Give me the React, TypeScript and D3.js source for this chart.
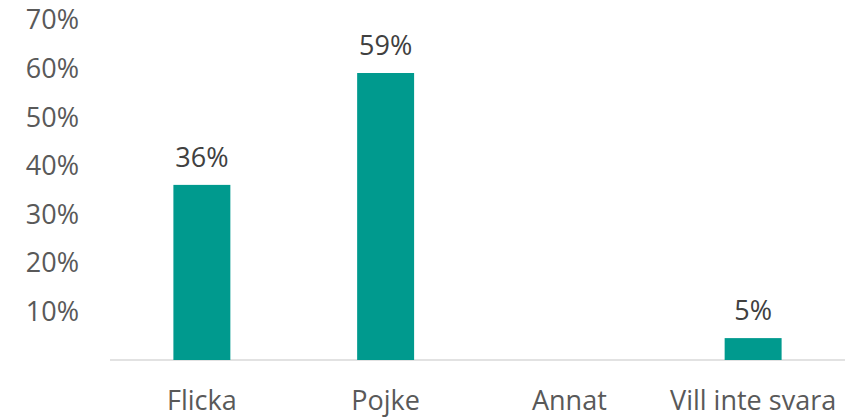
import React from "react";
import * as d3 from "d3";

const categories = ["Flicka", "Pojke", "Annat", "Vill inte svara"];
const values = [36, 59, 0, 4.5];
const dataLabels = ["36%", "59%", "", "5%"];
const yTicks = [10, 20, 30, 40, 50, 60, 70];

const W = 849;
const H = 418;

export default function App() {
  const x = d3.scaleBand<string>().domain(categories).range([110, 845]).paddingInner(0.69).paddingOuter(0.345);
  const y = d3.scaleLinear().domain([0, 70]).range([360, 19.5]);
  const font = "'Open Sans', sans-serif";
  return (
    <svg width={W} height={H} style={{ position: "absolute", left: 0, top: 0, background: "#fff" }}>
      {yTicks.map((t) => (
        <text key={t} x={79} y={y(t)} dy="0.36em" textAnchor="end" fontFamily={font} fontSize={27} fill="#595959">
          {t}%
        </text>
      ))}
      <line x1={110} x2={845} y1={y(0)} y2={y(0)} stroke="#d9d9d9" strokeWidth={1.5} />
      {categories.map((c, i) => (
        <g key={c}>
          {values[i] > 0 && (
            <rect x={x(c)} y={y(values[i])} width={x.bandwidth()} height={y(0) - y(values[i])} fill="#009A8E" />
          )}
          {dataLabels[i] && (
            <text x={(x(c) as number) + x.bandwidth() / 2} y={y(values[i]) - 18} textAnchor="middle" fontFamily={font} fontSize={27} fill="#404040">
              {dataLabels[i]}
            </text>
          )}
          <text x={(x(c) as number) + x.bandwidth() / 2} y={410} textAnchor="middle" fontFamily={font} fontSize={27} fill="#595959">
            {c}
          </text>
        </g>
      ))}
    </svg>
  );
}
